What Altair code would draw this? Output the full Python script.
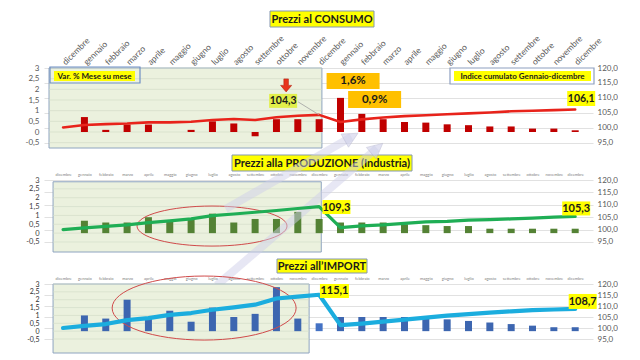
import altair as alt
import pandas as pd

FONT = "Lato"

months = ["dicembre", "gennaio", "febbraio", "marzo", "aprile", "maggio", "giugno",
          "luglio", "agosto", "settembre", "ottobre", "novembre", "dicembre",
          "gennaio", "febbraio", "marzo", "aprile", "maggio", "giugno",
          "luglio", "agosto", "settembre", "ottobre", "novembre", "dicembre"]

titles = ["Prezzi al CONSUMO", "Prezzi alla  PRODUZIONE (Industria)", "Prezzi all\u2019IMPORT"]
box_labels = ["Var. % Mese su mese", "Indice cumulato Gennaio-dicembre"]
left_ticks = [-0.5, 0, 0.5, 1, 1.5, 2, 2.5, 3]
right_ticks = [95, 100, 105, 110, 115, 120]

# Prezzi al consumo
cons_var = [None, 0.7, 0.1, 0.35, 0.35, None, 0.1, 0.5, 0.4, -0.2, 0.6, 0.6, 0.6,
            1.6, 0.85, 0.6, 0.47, 0.44, 0.36, 0.32, 0.26, 0.26, 0.16, 0.16, 0.08]
cons_idx = [100.1, 100.9, 101.2, 101.4, 101.8, 101.8, 102.0, 102.6, 102.9, 102.6, 103.5, 104.0, 104.3,
            101.9, 102.8, 103.4, 103.9, 104.2, 104.5, 104.8, 105.1, 105.5, 105.7, 105.9, 106.1]
cons_tags = ["104,3", "106,1"]
cons_var_tags = ["1,6%", "0,9%"]

# Prezzi alla produzione
prod_var = [None, 0.7, 0.6, 0.6, 0.9, 0.7, 0.8, 1.1, 0.6, 0.8, 0.8, 1.2, 0.8,
            0.6, 0.6, 0.6, 0.5, 0.45, 0.4, 0.4, 0.25, 0.25, 0.25, 0.25, 0.25]
prod_idx = [100.0, 100.7, 101.3, 101.9, 102.8, 103.5, 104.3, 105.6, 106.3, 107.0, 107.7, 108.5, 109.3,
            100.8, 101.5, 101.9, 102.5, 103.1, 103.3, 103.8, 104.0, 104.3, 104.6, 105.0, 105.3]
prod_tags = ["109,3", "105,3"]

# Prezzi all'import
imp_var = [None, 1.0, 0.8, 2.0, 0.8, 1.3, 0.6, 1.5, 0.9, 1.1, 2.8, 0.8, 0.5,
           0.9, 0.9, 0.9, 0.9, 0.8, 0.75, 0.65, 0.55, 0.45, 0.35, 0.25, 0.25]
imp_idx = [100.0, 101.0, 101.8, 103.6, 104.5, 106.0, 106.8, 108.3, 109.4, 110.6, 113.4, 114.3, 115.1,
           101.3, 102.0, 102.9, 103.8, 104.7, 105.6, 106.3, 107.0, 107.6, 108.1, 108.4, 108.7]
imp_tags = ["115,1", "108,7"]

N = len(months)
XDOM = [-0.66, 24.6]
W = 549
label_expr_x = "[" + ",".join("'%s'" % m for m in months) + "][datum.value]"

ELLIPSE2 = "M-1,0 A1,0.267 0 1,1 1,0 A1,0.267 0 1,1 -1,0 Z"
ELLIPSE3 = "M-1,0 A1,0.348 0 1,1 1,0 A1,0.348 0 1,1 -1,0 Z"
DOWN_ARROW = "M-0.35,-1 L0.35,-1 L0.35,0 L0.85,0 L0,1 L-0.85,0 L-0.35,0 Z"
HEAD = "M0,-1 L1,1 L-1,1 Z"


def x_axis(top_rotated):
    if top_rotated:
        return alt.Axis(orient="top", values=list(range(N)), labelExpr=label_expr_x,
                        labelAngle=-45, labelAlign="left", labelBaseline="middle",
                        labelPadding=5, labelFontSize=8.5, labelColor="#595959",
                        labelFont=FONT, labelOverlap=False, labelFlush=False,
                        ticks=False, domain=False, grid=False)
    return alt.Axis(orient="top", values=list(range(N)), labelExpr=label_expr_x,
                    labelAngle=0, labelAlign="center", labelPadding=4, labelFontSize=4,
                    labelColor="#808080", labelFont=FONT, labelOverlap=False,
                    labelFlush=False, ticks=False, domain=False, grid=False)


def build_panel(var, ind, h, ldom, rdom, rotated, bar_color, line_color, lw,
                box, left_extra, right_extra, llab_color, llab_size, bar_cond=None):
    xa = x_axis(rotated)

    def X(field="i"):
        return alt.X(field + ":Q", scale=alt.Scale(domain=XDOM, nice=False, zero=False),
                     axis=xa, title=None)

    yl_axis = alt.Axis(orient="left", values=left_ticks,
                       labelExpr="replace(toString(datum.value), '.', ',')",
                       grid=False, ticks=False, domain=False, labelFont=FONT,
                       labelFontSize=llab_size, labelColor=llab_color, labelPadding=5,
                       labelFlush=False, labelOverlap=False)
    yr_axis = alt.Axis(orient="right", values=right_ticks,
                       labelExpr="replace(format(datum.value, '.1f'), '.', ',')",
                       grid=True, gridColor="#d9d9d9", gridWidth=0.8, ticks=False,
                       domain=False, labelFont=FONT, labelFontSize=8, labelColor="#595959",
                       labelPadding=4, labelFlush=False, labelOverlap=False)

    def YL():
        return alt.Y("v:Q", scale=alt.Scale(domain=ldom, nice=False, zero=False),
                     axis=yl_axis, title=None)

    def YR():
        return alt.Y("v:Q", scale=alt.Scale(domain=rdom, nice=False, zero=False),
                     axis=yr_axis, title=None)

    bx0, bx1, by0, by1 = box
    box_df = pd.DataFrame({"i": [bx0], "i2": [bx1], "v": [by0], "v2": [by1]})
    box_rect = alt.Chart(box_df).mark_rect(fill="#ebf1de", stroke="#8ea4c0", strokeWidth=1).encode(
        x=X(), x2="i2", y=YL(), y2="v2")
    gt = [t for t in left_ticks if by0 <= t <= by1]
    grid_df = pd.DataFrame({"i": [bx0] * len(gt), "i2": [bx1] * len(gt), "v": gt})
    box_grid = alt.Chart(grid_df).mark_rule(color="#d3dcc8", strokeWidth=0.7).encode(
        x=X(), x2="i2", y=YL())

    bdf = pd.DataFrame({"i": list(range(N)), "v": var, "z": [0.0] * N}).dropna()
    color = alt.value(bar_color) if bar_cond is None else alt.condition(
        bar_cond[0], alt.value(bar_cond[1]), alt.value(bar_color))
    bars = alt.Chart(bdf).mark_bar(size=7).encode(x=X(), y=YL(), y2="z", color=color)

    ldf = pd.DataFrame({"i": list(range(N)), "v": ind})
    line = alt.Chart(ldf).mark_line(color=line_color, strokeWidth=lw, strokeJoin="round",
                                    strokeCap="round").encode(x=X(), y=YR())

    ctx = {"X": X, "YL": YL, "YR": YR}
    left = alt.layer(box_rect, box_grid, bars, *left_extra(ctx))
    right = alt.layer(line, *right_extra(ctx))
    return alt.layer(left, right).resolve_scale(y="independent").properties(width=W, height=h)


def tag(ctx, yname, i, v, text, cx, cy, w, h, fill, size, stroke=None):
    d = pd.DataFrame({"i": [i], "v": [v], "t": [text]})
    X = ctx["X"]
    Y = ctx[yname]
    rkw = dict(fill=fill, xOffset=cx - w / 2, x2Offset=cx + w / 2,
               yOffset=cy - h / 2, y2Offset=cy + h / 2)
    if stroke:
        rkw.update(stroke=stroke, strokeWidth=0.8)
    rect = alt.Chart(d).mark_rect(**rkw).encode(x=X(), x2="i", y=Y(), y2="v")
    txt = alt.Chart(d).mark_text(dx=cx, dy=cy + 0.5, font=FONT, fontWeight="bold", fontSize=size,
                                 color="#1a1a1a", align="center", baseline="middle").encode(
        x=X(), y=Y(), text="t:N")
    return [rect, txt]


def pix_box(x0, x1, y0, y1, fill, stroke=None, sw=1.0):
    kw = dict(fill=fill)
    if stroke:
        kw.update(stroke=stroke, strokeWidth=sw)
    if fill is None:
        kw = dict(fillOpacity=0, stroke=stroke, strokeWidth=sw)
    return alt.Chart(pd.DataFrame({"a": [0]})).mark_rect(**kw).encode(
        x=alt.value(x0), x2=alt.value(x1), y=alt.value(y0), y2=alt.value(y1))


def pix_text(x, y, text, size, color="#1a1a1a"):
    return alt.Chart(pd.DataFrame({"t": [text]})).mark_text(
        font=FONT, fontWeight="bold", fontSize=size, color=color, align="center",
        baseline="middle").encode(x=alt.value(x), y=alt.value(y), text="t:N")


# ---------- panel 1 ----------
def p1_left(ctx):
    out = [
        pix_box(226, 330, -57, -41, "#ffff00", "#8497b0"),
        pix_text(278, -48.5, titles[0], 11),
        pix_box(6, 96, -1, 15, None, "#6f8fc4", 1.2),
        pix_box(10, 91, 3, 13, "#ffff00"),
        pix_text(50.5, 8.5, box_labels[0], 8),
        pix_box(406, 550, 0, 16, "#ffffff", "#8ea0c0", 1.2),
        pix_box(410, 547, 3, 13, "#ffff00"),
        pix_text(478.5, 8.5, box_labels[1], 8),
    ]
    out += tag(ctx, "YL", 13, cons_var[13], cons_var_tags[0], 12.6, -16.9, 53, 16, "#ffc000", 11.5)
    out += tag(ctx, "YL", 14, cons_var[14], cons_var_tags[1], 12.8, -14.4, 53, 17, "#ffc000", 11.5)
    return out


def p1_right(ctx):
    X, YR = ctx["X"], ctx["YR"]
    d = pd.DataFrame({"i": [12], "v": [cons_idx[12]]})
    leader = alt.Chart(d).mark_rule(color="#a0a0a0", strokeWidth=0.8, xOffset=-21, yOffset=-13).encode(
        x=X(), y=YR(), x2="i", y2="v")
    arrow = alt.Chart(d).mark_point(shape=DOWN_ARROW, size=169, filled=True, fill="#e8341c",
                                    stroke="#b52514", strokeWidth=0.6, opacity=1,
                                    xOffset=-33, yOffset=-29.5).encode(x=X(), y=YR())
    out = [leader, arrow]
    out += tag(ctx, "YR", 12, cons_idx[12], cons_tags[0], -36, -14, 28, 14, "#e2ef4a", 10.5)
    out += tag(ctx, "YR", 24, cons_idx[24], cons_tags[1], 6, -11, 28, 15, "#ffff00", 10.5)
    return out


# ---------- panel 2 ----------
arrow_shafts = pd.DataFrame({"i": [7.62, 13.51, 7.2, 14.71], "v": [1.36, 5.43, -2.95, 4.79],
                             "k": ["a", "a", "b", "b"]})
arrow_heads = pd.DataFrame({"i": [13.51, 14.71], "v": [5.43, 4.79], "ang": [60.6, 49.5]})


def p2_left(ctx):
    X, YL = ctx["X"], ctx["YL"]
    ell = alt.Chart(pd.DataFrame({"i": [6.98], "v": [0.40]})).mark_point(
        shape=ELLIPSE2, size=22500, filled=False, stroke="#d04a4a", strokeWidth=1,
        opacity=1).encode(x=X(), y=YL())
    shafts = alt.Chart(arrow_shafts).mark_line(color="#cfd0ea", strokeWidth=8, opacity=0.5,
                                               strokeCap="butt").encode(
        x=X(), y=YL(), detail="k:N")
    heads = alt.Chart(arrow_heads).mark_point(shape=HEAD, size=225, filled=True, fill="#cfd0ea",
                                              opacity=0.6, stroke="#a9a9c8", strokeWidth=0.6).encode(
        x=X(), y=YL(), angle=alt.Angle("ang:Q", scale=None))
    return [
        pix_box(188, 368, -25, -9, "#ffff00", "#8497b0"),
        pix_text(278, -16.5, titles[1], 11),
        ell, shafts, heads,
    ]


def p2_right(ctx):
    out = []
    out += tag(ctx, "YR", 12, prod_idx[12], prod_tags[0], 17.3, 0.5, 28, 14, "#ffff00", 11)
    out += tag(ctx, "YR", 24, prod_idx[24], prod_tags[1], 1, -8, 28, 14, "#ffff00", 11)
    return out


# ---------- panel 3 ----------
def p3_left(ctx):
    X, YL = ctx["X"], ctx["YL"]
    ell = alt.Chart(pd.DataFrame({"i": [6.61], "v": [1.47]})).mark_point(
        shape=ELLIPSE3, size=33856, filled=False, stroke="#d04a4a", strokeWidth=1,
        opacity=1).encode(x=X(), y=YL())
    return [
        pix_box(233, 323, -25, -11, "#ffff00", "#8497b0"),
        pix_text(278, -17.5, titles[2], 11),
        ell,
    ]


def p3_right(ctx):
    out = []
    out += tag(ctx, "YR", 12, imp_idx[12], imp_tags[0], 15.3, -3.8, 29, 14, "#ffff00", 11)
    out += tag(ctx, "YR", 24, imp_idx[24], imp_tags[1], 7.5, -7.4, 28, 15, "#ffff00", 11)
    return out


p1 = build_panel(cons_var, cons_idx, 80, [-0.75, 3], [93.214, 120], True,
                 "#c00000", "#e8231b", 2.6, (-0.66, 12.13, -0.75, 3.0),
                 p1_left, p1_right, "#595959", 8)
p2 = build_panel(prod_var, prod_idx, 72, [-1.065, 3], [90.964, 120], False,
                 "#548235", "#1fae55", 3.2, (-0.47, 12.1, -1.065, 2.9),
                 p2_left, p2_right, "#404040", 7.5)
p3 = build_panel(imp_var, imp_idx, 69, [-1.39, 3], [88.643, 120], False,
                 "#3d66b0", "#1badde", 4.2, (-0.47, 11.53, -1.39, 3.0),
                 p3_left, p3_right, "#303030", 7, bar_cond=("datum.i == 12", "#4472c4"))

chart = alt.vconcat(p1, p2, p3, spacing=32, bounds="flush").properties(
    padding={"left": 16, "top": 2, "right": 0, "bottom": 0},
    background="#ffffff",
).configure_view(stroke=None)

chart.save("out.html", embed_options={"renderer": "svg", "actions": False})
